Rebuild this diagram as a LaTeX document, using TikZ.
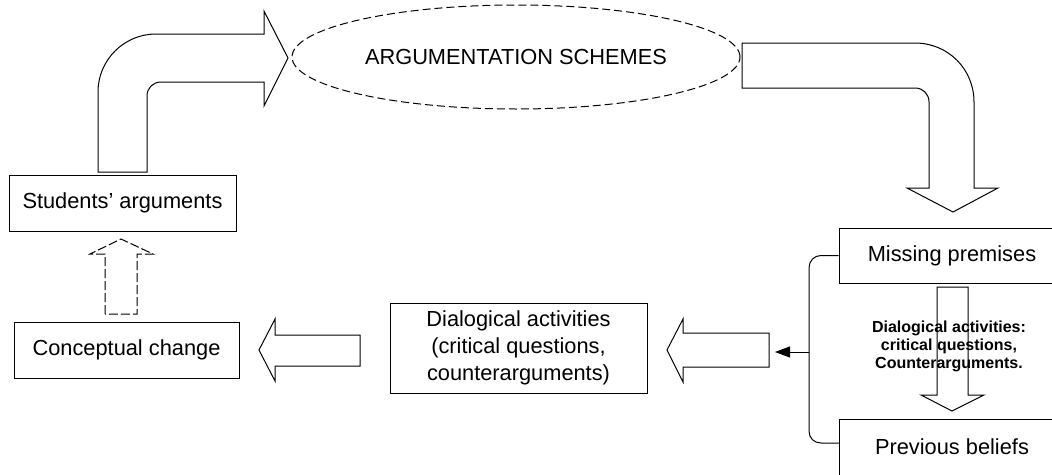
\documentclass[tikz,border=0pt]{standalone}
\usepackage{fontspec}
\setmainfont{Liberation Sans}
\usetikzlibrary{shapes.geometric,arrows.meta}
\begin{document}
\begin{tikzpicture}[x=1pt,y=-1pt,
  every node/.style={font=\fontsize{21.8}{27}\selectfont},
  box/.style={draw,line width=1pt,rectangle,inner sep=0pt,align=center},
  fat/.style={draw,line width=1pt,line join=miter},
  lbl/.style={font=\fontsize{16}{18}\selectfont\bfseries,align=center,inner sep=0pt}]
\useasboundingbox (0,0) rectangle (1052,474);
% nodes
\node[draw,dash pattern=on 8pt off 4pt,line width=1pt,ellipse,minimum width=448pt,minimum height=104pt,inner sep=0pt] (as) at (516,57) {ARGUMENTATION SCHEMES};
\node[box,minimum width=227pt,minimum height=56pt] (sa) at (122.5,203) {Students’ arguments};
\node[box,minimum width=225pt,minimum height=56pt] (cc) at (126.5,350) {Conceptual change};
\node[box,minimum width=257pt,minimum height=90pt] (da) at (518.5,348) {Dialogical activities\\(critical questions,\\counterarguments)};
\node[box,minimum width=226pt,minimum height=55pt] (mp) at (952,255.5) {Missing premises};
\node[box,minimum width=226pt,minimum height=56pt] (pb) at (952,447) {Previous beliefs};
% bent arrow: students' arguments -> schemes
\draw[fat] (98,172) -- (98,92) .. controls (98,60) and (124,34) .. (156,34) -- (264,34) -- (264,11) -- (288,58)
  -- (264,106) -- (264,82) -- (161,82) .. controls (153,82) and (147,88) .. (147,96) -- (147,172) -- cycle;
% bent arrow: schemes -> missing premises
\draw[fat] (742,43) -- (915,43) .. controls (948,43) and (974,69) .. (974,102) -- (974,188) -- (998,188) -- (953,212)
  -- (907,188) -- (929,188) -- (929,102) .. controls (929,94) and (923,88) .. (915,88) -- (742,88) -- cycle;
% dashed up arrow: conceptual change -> students' arguments
\draw[fat,dash pattern=on 9pt off 3pt] (105,314) -- (105,254) -- (90,254) -- (121,239) -- (153,254) -- (137,254) -- (137,314) -- cycle;
% left arrow: dialogical -> conceptual change
\draw[fat] (360,335) -- (275,335) -- (275,319) -- (259,350) -- (275,381) -- (275,366) -- (360,366) -- cycle;
% left arrow: bracket -> dialogical
\draw[fat] (769,333) -- (683,333) -- (683,319) -- (667,350) -- (683,382) -- (683,367) -- (769,367) -- cycle;
% down arrow: missing premises -> previous beliefs
\draw[fat] (937,287) -- (937,395) -- (921,395) -- (952,411) -- (984,395) -- (968,395) -- (968,287) -- cycle;
\node[lbl] (dl) at (949,346) {Dialogical activities:\\critical questions,\\Counterarguments.};
% bracket
\coordinate (br) at (809,352);
\draw[line width=1pt] (mp.west) -- (821,255.5) .. controls (814,255.5) and (809,261) .. (809,268) -- (809,431)
  .. controls (809,438) and (814,443) .. (821,443) -- (839,443);
\draw[line width=1pt,-{Triangle[length=15pt,width=11pt]}] (br) -- (775,352);
\end{tikzpicture}
\end{document}
